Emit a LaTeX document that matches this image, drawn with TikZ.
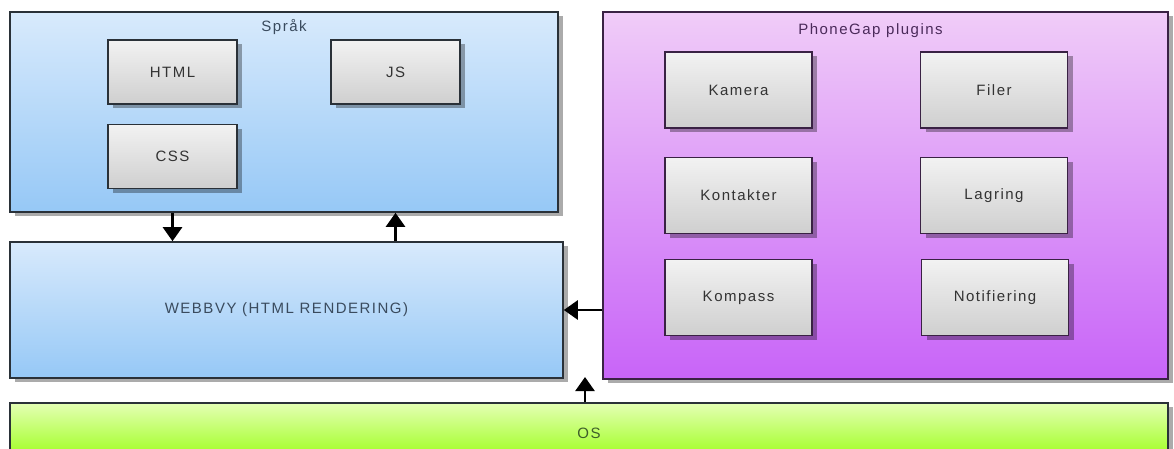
\documentclass[tikz,border=0pt]{standalone}
\usepackage{fontspec}
\setmainfont{Liberation Sans}[LetterSpace=10]
\usetikzlibrary{arrows.meta,shadows,positioning}

\definecolor{webTop}{HTML}{D8EAFC}
\definecolor{webBot}{HTML}{96C8F6}
\definecolor{pgTop}{HTML}{F0CCF8}
\definecolor{pgBot}{HTML}{C864F8}
\definecolor{osTop}{HTML}{E4FFB4}
\definecolor{osBot}{HTML}{98FF10}
\definecolor{boxTop}{HTML}{F2F2F2}
\definecolor{boxBot}{HTML}{CFCFCF}
\definecolor{webLine}{HTML}{2A3138}
\definecolor{pgLine}{HTML}{3A2244}
\definecolor{webText}{HTML}{3A4B5E}
\definecolor{pgText}{HTML}{4A2A5A}
\definecolor{osText}{HTML}{3E5E2A}

\begin{document}
\begin{tikzpicture}[
  x=1pt, y=-1pt,
  font=\fontsize{15}{18}\selectfont,
  layer/.style={rectangle, inner sep=0pt, line width=1.6pt, drop shadow={shadow xshift=5pt, shadow yshift=-4pt, fill=black, opacity=0.33}},
  weblayer/.style={layer, draw=webLine, top color=webTop, bottom color=webBot, text=webText},
  pglayer/.style={layer, draw=pgLine, top color=pgTop, bottom color=pgBot, text=pgText},
  oslayer/.style={layer, draw=webLine, top color=osTop, bottom color=osBot, text=osText},
  item/.style={layer, top color=boxTop, bottom color=boxBot, text=black!80, minimum width=129pt, minimum height=64pt},
  plugin/.style={item, draw=pgLine, minimum width=147pt, minimum height=76pt},
  title/.style={anchor=north, inner sep=0pt, yshift=-8pt},
  flow/.style={-{Triangle[width=19pt,length=14pt]}, line width=2.6pt, black}
]

\useasboundingbox (0,0) rectangle (1174,448);
\clip (0,0) rectangle (1174,448);
\fill[white] (0,0) rectangle (1174,448);

% Språk
\node[weblayer, minimum width=548pt, minimum height=200pt,
  label={[title, text=webText]north:Språk}] (sprak) at (284,112) {};
\node[item, draw=webLine] (html) at (172.5,72) {HTML};
\node[item, draw=webLine] (js) at (395.5,72) {JS};
\node[item, draw=webLine] (css) at (172.5,156.5) {CSS};

% Webbvy
\node[weblayer, minimum width=553pt, minimum height=136pt] (webbvy) at (286.5,310) {WEBBVY (HTML RENDERING)};

% PhoneGap plugins
\node[pglayer, minimum width=565pt, minimum height=367pt,
  label={[title, text=pgText, xshift=-15pt, yshift=-4pt]north:PhoneGap plugins}] (phonegap) at (885.5,195.5) {};
\node[plugin] (kamera) at (738.5,90) {Kamera};
\node[plugin] (filer) at (994,90) {Filer};
\node[plugin] (kontakter) at (738.5,195.5) {Kontakter};
\node[plugin] (lagring) at (994,195.5) {Lagring};
\node[plugin] (kompass) at (738.5,297.5) {Kompass};
\node[plugin] (notifiering) at (995,297.5) {Notifiering};

% OS
\node[oslayer, minimum width=1158pt, minimum height=60pt, text depth=0pt] (os) at (589,433) {OS};

% Arrows
\coordinate (osin) at (585,377);
\draw[flow] (sprak.south -| css) -- (webbvy.north -| css);
\draw[flow] (webbvy.north -| js) -- (sprak.south -| js);
\draw[flow] (phonegap.west |- webbvy) -- (webbvy.east);
\draw[flow] (os.north -| osin) -- (osin);

\end{tikzpicture}
\end{document}
